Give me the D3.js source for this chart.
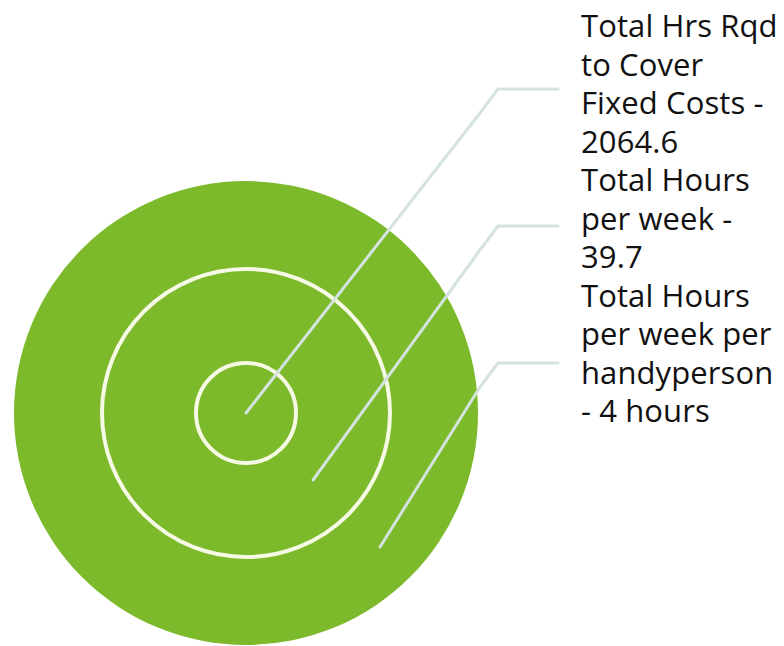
<!DOCTYPE html>
<html>
<head>
<meta charset="utf-8">
<script src="https://cdn.jsdelivr.net/npm/d3@7"></script>
<style>
  html, body { margin: 0; padding: 0; background: #fff; }
</style>
</head>
<body>
<div id="target_vis"></div>
<script>
(function(){

    // rings from the inside out, one label block per ring
    var rings = ['fixed', 'week', 'person'];
    var ringLabels = [
        ['Total Hrs Rqd', 'to Cover', 'Fixed Costs -', '2064.6'],
        ['Total Hours', 'per week -', '39.7'],
        ['Total Hours', 'per week per', 'handyperson', '- 4 hours']
    ];

    var width = 784;
    var height = 646;

    var cx = 246;
    var cy = 413;

    var svg = d3.select('#target_vis')
        .append('svg')
            .attr('width', width)
            .attr('height', height)
            .style('font-family', '"Open Sans", "Noto Sans", sans-serif');

    // inner ring, middle ring, outer disc
    var rScale = d3.scaleOrdinal()
        .domain(rings)
        .range([50, 144, 232]);

    svg.append('circle')
        .attr('cx', cx)
        .attr('cy', cy)
        .attr('r', rScale(rings[2]))
        .attr('fill', '#7cba2b');

    svg.selectAll('.ring')
        .data(rings.slice(0, 2))
        .enter()
        .append('circle')
        .attr('class', 'ring')
        .attr('cx', cx)
        .attr('cy', cy)
        .attr('r', function(d){ return rScale(d); })
        .attr('fill', 'none')
        .attr('stroke', '#f6f9e4')
        .attr('stroke-width', 4);

    // leader lines: start steps out diagonally, elbow lines up with the text
    var startScale = d3.scalePoint()
        .domain(rings)
        .range([0, 134]);

    var elbowScale = d3.scalePoint()
        .domain(rings)
        .range([89, 363]);

    svg.selectAll('.leader')
        .data(rings)
        .enter()
        .append('polyline')
        .attr('class', 'leader')
        .attr('points', function(d){
            var s = startScale(d);
            var ey = elbowScale(d);
            return [
                [cx + s, cy + s],
                [480, ey + 24],
                [498, ey],
                [558, ey]
            ].join(' ');
        })
        .attr('fill', 'none')
        .attr('stroke', '#d4e3de')
        .attr('stroke-width', 3)
        .attr('stroke-linecap', 'round')
        .attr('stroke-linejoin', 'round');

    // labels, one continuous column of lines
    var lines = [];
    ringLabels.forEach(function(block){
        block.forEach(function(l){ lines.push(l); });
    });

    var lineY = d3.scaleLinear()
        .domain([0, lines.length - 1])
        .range([37, 422]);

    svg.selectAll('.label')
        .data(lines)
        .enter()
        .append('text')
        .attr('class', 'label')
        .attr('x', 581)
        .attr('y', function(d, i){ return lineY(i); })
        .attr('font-size', '31px')
        .attr('font-weight', 500)
        .attr('letter-spacing', '0.1px')
        .attr('fill', '#111')
        .text(function(d){ return d; });

})();
</script>
</body>
</html>
